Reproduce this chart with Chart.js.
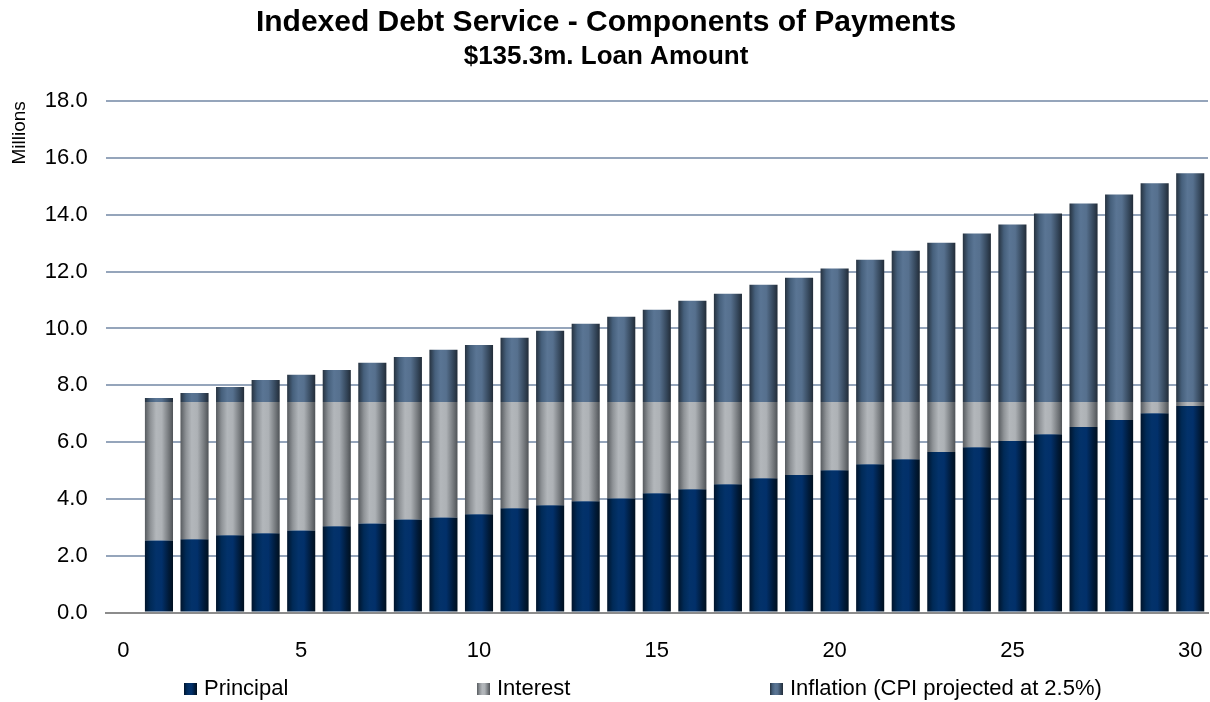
<!DOCTYPE html>
<html><head><meta charset="utf-8">
<script src="https://cdn.jsdelivr.net/npm/chart.js@4.4.1/dist/chart.umd.min.js"></script>
<style>html,body{margin:0;padding:0;background:#fff;}#wrap{width:1210px;height:702px;}</style>
</head><body><div id="wrap"><canvas id="c" width="1210" height="702"></canvas></div>
<script>
// Categories (payment year); year 0 has no bar
const years = ['0','1','2','3','4','5','6','7','8','9','10','11','12','13','14','15','16','17','18','19','20','21','22','23','24','25','26','27','28','29','30'];
const xTickLabels = ['0','5','10','15','20','25','30'];
// Values in $ millions, years 1..30
const principal = [2.54,2.58,2.72,2.79,2.89,3.04,3.14,3.28,3.35,3.46,3.67,3.78,3.92,4.02,4.20,4.34,4.52,4.73,4.84,5.01,5.22,5.40,5.65,5.82,6.04,6.28,6.53,6.78,7.02,7.27];
const interest = [4.87,4.83,4.69,4.62,4.52,4.37,4.27,4.13,4.06,3.95,3.74,3.63,3.49,3.39,3.21,3.07,2.89,2.68,2.57,2.40,2.19,2.01,1.76,1.59,1.37,1.13,0.88,0.63,0.39,0.14];
const inflation = [0.14,0.32,0.53,0.78,0.96,1.13,1.38,1.59,1.84,2.01,2.26,2.51,2.76,3.00,3.25,3.57,3.81,4.13,4.38,4.70,5.01,5.33,5.61,5.93,6.25,6.64,6.99,7.31,7.70,8.05];
const seriesNames = ['Principal','Interest','Inflation (CPI projected at 2.5%)'];
const yTicks = {min:0, max:18, step:2};

const FONT = "'Liberation Sans', Arial, sans-serif";
const palettes = [
  ['#00142b','#002a57','#03326a','#02306a','#001a38','#00101f'],
  ['#575b5f','#8f9397','#b3b7bb','#aeb2b6','#74787c','#4f5357'],
  ['#26323f','#46607c','#5a7594','#56708e','#34465a','#222c38']
];
const stops = [0,0.2,0.4,0.6,0.85,1];
function makeGrad(ctx, x0, x1, pal){
  const g = ctx.createLinearGradient(x0,0,x1,0);
  pal.forEach((c,i)=>g.addColorStop(stops[i],c));
  return g;
}
const BAR_PCT = 0.79;
function barFill(si){
  return function(c){
    const chart = c.chart, xs = chart.scales.x;
    if (!xs || c.dataIndex === undefined || !chart.chartArea) return palettes[si][2];
    const cx = xs.getPixelForValue(c.dataIndex);
    const w = xs.width / years.length * BAR_PCT;
    return makeGrad(chart.ctx, cx - w/2, cx + w/2, palettes[si]);
  };
}
const withGap = arr => [null].concat(arr);

const legendPlugin = {
  id:'customLegend',
  afterDraw(chart){
    const ctx = chart.ctx;
    ctx.save();
    ctx.font = '22px ' + FONT;
    ctx.textBaseline = 'alphabetic';
    ctx.textAlign = 'left';
    const x0 = 184, step = 293, y = 695;
    seriesNames.forEach((name,i)=>{
      const x = x0 + i*step;
      ctx.fillStyle = makeGrad(ctx, x, x+13, palettes[i]);
      ctx.fillRect(x, y-12, 13, 12);
      ctx.fillStyle = '#000';
      ctx.fillText(name, x+20, y);
    });
    ctx.restore();
  }
};

new Chart(document.getElementById('c'), {
  type:'bar',
  data:{
    labels: years,
    datasets:[
      {label:seriesNames[0], data:withGap(principal), backgroundColor:barFill(0)},
      {label:seriesNames[1], data:withGap(interest), backgroundColor:barFill(1)},
      {label:seriesNames[2], data:withGap(inflation), backgroundColor:barFill(2)}
    ]
  },
  options:{
    responsive:false,
    animation:false,
    devicePixelRatio:1,
    layout:{padding:{left:4,right:2,top:0,bottom:38}},
    datasets:{bar:{barPercentage:BAR_PCT, categoryPercentage:1, borderWidth:0}},
    plugins:{
      legend:{display:false},
      tooltip:{enabled:false},
      title:{display:true, text:'Indexed Debt Service - Components of Payments', color:'#000',
        font:{family:FONT, size:30, weight:'bold'}, padding:{top:5,bottom:0}},
      subtitle:{display:true, text:'$135.3m. Loan Amount', color:'#000',
        font:{family:FONT, size:26, weight:'bold'}, padding:{top:0,bottom:29}}
    },
    scales:{
      x:{
        stacked:true,
        grid:{display:true, drawOnChartArea:false, drawTicks:true, tickLength:25, tickColor:'rgba(0,0,0,0)'},
        border:{display:true, color:'#8c8c8c', width:2},
        ticks:{autoSkip:false, maxRotation:0, padding:0, color:'#000',
          font:{family:FONT, size:22},
          callback:function(v,i){ const l = years[i]; return xTickLabels.includes(l) ? l : ''; }}
      },
      y:{
        stacked:true, min:yTicks.min, max:yTicks.max,
        grid:{drawTicks:true, tickLength:18, tickColor:'rgba(0,0,0,0)', lineWidth:2,
          color:(c)=> c.tick && c.tick.value===0 ? '#8c8c8c' : '#95a5bb'},
        border:{display:false},
        ticks:{stepSize:yTicks.step, padding:0, color:'#000',
          font:{family:FONT, size:22}, callback:v=>Number(v).toFixed(1)},
        title:{display:true, text:'Millions', align:'end', color:'#000',
          font:{family:FONT, size:19}, padding:{top:4,bottom:14}}
      }
    }
  },
  plugins:[legendPlugin]
});
</script></body></html>
